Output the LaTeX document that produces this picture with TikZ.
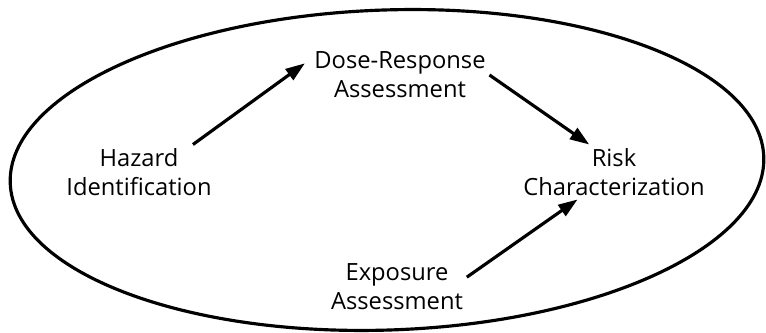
\documentclass[tikz,border=0pt]{standalone}
\usepackage{fontspec}
\setmainfont{Open Sans}
\usetikzlibrary{arrows.meta}

\begin{document}
\begin{tikzpicture}[x=0.02cm,y=-0.02cm,
    stage/.style={align=center,font=\fontsize{13.5}{16.5}\selectfont,inner sep=2pt},
    flow/.style={-{Triangle[length=11pt,width=7.5pt]},line width=1.8pt}]
  \useasboundingbox (0,0) rectangle (766,333);
  % Outer ring
  \draw[line width=1.8pt,rotate around={2:(387,170)}]
    (387,170) ellipse [x radius=377, y radius=160];
  % Stages
  \node[stage] (haz) at (139,172) {Hazard\\Identification};
  \node[stage] (dose) at (400,75) {Dose-Response\\Assessment};
  \node[stage] (risk) at (614,172) {Risk\\Characterization};
  \node[stage] (expo) at (397,287) {Exposure\\Assessment};
  % Flow between stages
  \draw[flow,shorten >=4pt] (haz.27) -- (dose.170);
  \draw[flow] (dose.east) -- (risk.132);
  \draw[flow] (expo.8) -- (risk.217);
\end{tikzpicture}
\end{document}
